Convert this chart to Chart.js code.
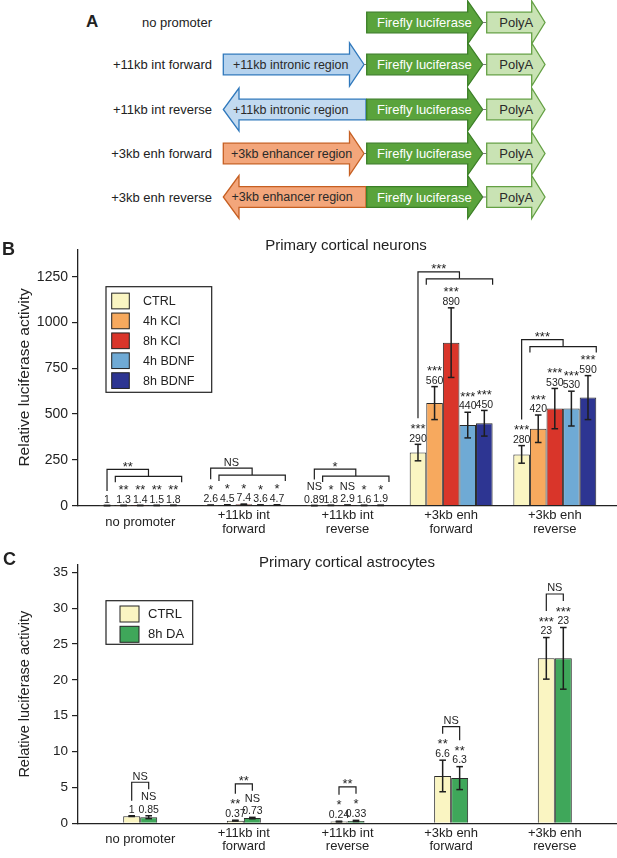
<!DOCTYPE html>
<html>
<head>
<meta charset="utf-8">
<script src="https://cdn.jsdelivr.net/npm/chart.js@4.4.0/dist/chart.umd.min.js"></script>
<style>
  body { margin: 0; width: 617px; height: 858px; position: relative; overflow: hidden; background: #fff;
         font-family: "Liberation Sans", Arial, sans-serif; color: #222; }
  canvas, svg { position: absolute; left: 0; }
  .letra { position: absolute; font-weight: bold; line-height: 1; }
  .titulo { position: absolute; width: 300px; text-align: center; font-size: 15px; line-height: 1; }
</style>
</head>
<body>
<svg id="esquema" width="617" height="230" style="top:0"></svg>
<canvas id="graficoNeur" width="617" height="310" style="top:235px"></canvas>
<canvas id="graficoAstro" width="617" height="310" style="top:548px"></canvas>
<div class="letra" style="left:86px; top:13px; font-size:17px">A</div>
<div class="letra" style="left:2px; top:240px; font-size:18px">B</div>
<div class="letra" style="left:3px; top:550px; font-size:18px">C</div>
<div class="titulo" style="left:196px; top:237px">Primary cortical neurons</div>
<div class="titulo" style="left:197px; top:554px">Primary cortical astrocytes</div>
<script>
// ---- dados ----
const grupos = ['no promoter', ['+11kb int', 'forward'], ['+11kb int', 'reverse'], ['+3kb enh', 'forward'], ['+3kb enh', 'reverse']];

// painel B - neurônios
const seriesNeur = ['CTRL', '4h KCl', '8h KCl', '4h BDNF', '8h BDNF'];
const ctrlNeur = [1, 2.6, 0.89, 290, 280];
const kcl4Neur = [1.3, 4.5, 1.8, 560, 420];
const kcl8Neur = [1.4, 7.4, 2.9, 890, 530];
const bdnf4Neur = [1.5, 3.6, 1.6, 440, 530];
const bdnf8Neur = [1.8, 4.7, 1.9, 450, 590];
const ctrlNeurErr = [0.1, 0.3, 0.1, 45, 48];
const kcl4NeurErr = [0.1, 0.5, 0.2, 90, 75];
const kcl8NeurErr = [0.1, 1.2, 0.4, 190, 110];
const bdnf4NeurErr = [0.1, 0.4, 0.2, 70, 95];
const bdnf8NeurErr = [0.2, 0.6, 0.2, 70, 120];
const ctrlNeurSig = ['', '*', 'NS', '***', '***'];
const kcl4NeurSig = ['**', '*', '*', '***', '***'];
const kcl8NeurSig = ['**', '*', 'NS', '***', '***'];
const bdnf4NeurSig = ['**', '*', '*', '***', '***'];
const bdnf8NeurSig = ['**', '*', '*', '***', '***'];
const chaveNeur = ['**', 'NS', '*', '***', '***'];
const ticksNeur = [0, 250, 500, 750, 1000, 1250];

// painel C - astrócitos
const seriesAstro = ['CTRL', '8h DA'];
const ctrlAstro = [1, 0.37, 0.24, 6.6, 23];
const daAstro = [0.85, 0.73, 0.33, 6.3, 23];
const ctrlAstroErr = [0.05, 0.06, 0.05, 2.2, 2.9];
const daAstroErr = [0.2, 0.1, 0.08, 1.6, 4.3];
const ctrlAstroSig = ['', '**', '*', '**', '***'];
const daAstroSig = ['NS', 'NS', '*', '**', '***'];
const chaveAstro = ['NS', '**', '**', 'NS', 'NS'];
const ticksAstro = [0, 5, 10, 15, 20, 25, 30, 35];

const FONTE = '"Liberation Sans", Arial, sans-serif';

// ---- painel A: esquema dos construtos ----
function flecha(x0, x1, ponta, cy, dir) {
  const h = 10.3, H = 21.5;
  if (dir > 0) {
    return [[x0, cy - h], [x1, cy - h], [x1, cy - H], [ponta, cy], [x1, cy + H], [x1, cy + h], [x0, cy + h]];
  }
  // seta para a esquerda: ponta < x0 (base da cabeça) < x1
  return [[x1, cy - h], [x0, cy - h], [x0, cy - H], [ponta, cy], [x0, cy + H], [x0, cy + h], [x1, cy + h]];
}

function desenharEsquema() {
  const svg = document.getElementById('esquema');
  let s = '';
  const poli = (pts, fill, stroke) =>
    `<polygon points="${pts.map(p => p.join(',')).join(' ')}" fill="${fill}" stroke="${stroke}" stroke-width="1.3" stroke-linejoin="miter"/>`;
  const txt = (t, x, y, cor, anchor, size) =>
    `<text x="${x}" y="${y}" fill="${cor}" font-size="${size}" text-anchor="${anchor}" dominant-baseline="central" font-family='${FONTE}'>${t}</text>`;

  const linhas = [
    { rotulo: 'no promoter', cy: 22.5 },
    { rotulo: '+11kb int forward', cy: 64.5, regiao: '+11kb intronic region', dir: 1, fill: '#b6d3ee', stroke: '#2f78bc', tx: 233 },
    { rotulo: '+11kb int reverse', cy: 109.5, regiao: '+11kb intronic region', dir: -1, fill: '#c2daf0', stroke: '#2f78bc', tx: 233 },
    { rotulo: '+3kb enh forward', cy: 153.5, regiao: '+3kb enhancer region', dir: 1, fill: '#f3a67b', stroke: '#c65f22', tx: 231 },
    { rotulo: '+3kb enh reverse', cy: 197, regiao: '+3kb enhancer region', dir: -1, fill: '#f3a67b', stroke: '#c65f22', tx: 231.5 }
  ];

  for (const l of linhas) {
    s += txt(l.rotulo, 212, l.cy, '#222', 'end', 13);
    if (l.regiao) {
      if (l.dir > 0) {
        s += poli(flecha(223.3, 349.5, 364, l.cy, 1), l.fill, l.stroke);
        s += `<line x1="364" y1="${l.cy}" x2="367" y2="${l.cy}" stroke="#777" stroke-width="1"/>`;
      } else {
        s += poli(flecha(239, 366, 223.3, l.cy, -1), l.fill, l.stroke);
      }
      s += txt(l.regiao, l.tx, l.cy, '#2a2a2a', 'start', 12.5);
    }
    s += poli(flecha(366.7, 467.7, 482.7, l.cy, 1), '#5aa33c', '#3b7f26');
    s += `<line x1="482.7" y1="${l.cy}" x2="486.7" y2="${l.cy}" stroke="#777" stroke-width="1"/>`;
    s += txt('Firefly luciferase', 377, l.cy, '#ffffff', 'start', 13);
    s += poli(flecha(486.7, 531.7, 545, l.cy, 1), '#c9e3b4', '#64a044');
    s += txt('PolyA', 499.3, l.cy, '#2a2a2a', 'start', 13);
  }
  svg.innerHTML = s;
}
desenharEsquema();

// ---- plugins ----
function escreverSig(ctx, txt, x, cy) {
  if (!txt) return;
  if (txt.indexOf('*') >= 0) {
    ctx.font = '13px ' + FONTE;
    ctx.fillText(txt, x, cy + 13 * 0.58);
  } else {
    ctx.font = '11px ' + FONTE;
    ctx.fillText(txt, x, cy + 11 * 0.36);
  }
}

function linha(ctx, pts) {
  ctx.beginPath();
  ctx.moveTo(pts[0][0], pts[0][1]);
  for (let i = 1; i < pts.length; i++) ctx.lineTo(pts[i][0], pts[i][1]);
  ctx.stroke();
}

// barras de erro, valores, asteriscos e colchetes
const anotacoes = {
  id: 'anotacoes',
  afterDatasetsDraw(chart, args, o) {
    const ctx = chart.ctx;
    const ys = chart.scales.y;
    ctx.save();
    ctx.strokeStyle = '#1e1e1e';
    ctx.fillStyle = '#1e1e1e';
    ctx.textAlign = 'center';
    ctx.textBaseline = 'alphabetic';

    for (let g = 0; g < o.chaves.length; g++) {
      const barras = chart.data.datasets.map((ds, d) => {
        const el = chart.getDatasetMeta(d).data[g];
        const v = ds.data[g].y, e = ds.erros[g];
        const topo = ys.getPixelForValue(v + e);
        const base = ys.getPixelForValue(Math.max(v - e, 0));
        ctx.lineWidth = 1.5;
        linha(ctx, [[el.x, topo], [el.x, base]]);
        linha(ctx, [[el.x - o.cap, topo], [el.x + o.cap, topo]]);
        linha(ctx, [[el.x - o.cap, base], [el.x + o.cap, base]]);
        const yV = topo - o.gapValor;
        const yS = topo - o.gapSig;
        ctx.font = o.fonteValor + 'px ' + FONTE;
        ctx.fillText(String(v), el.x, yV + o.fonteValor * 0.36);
        escreverSig(ctx, ds.sig[g], el.x, yS);
        return { x: el.x, w: el.width, yV, yS, sig: ds.sig[g] };
      });

      ctx.lineWidth = 1.2;
      const fim = b => (b.sig ? b.yS - 7 : b.yV - 8);
      if (o.tipo === 'aninhado') {
        const resto = barras.slice(1);
        const yBaixo = Math.min(...resto.map(b => b.yS)) - 10;
        const yCima = yBaixo - 7;
        const ult = resto[resto.length - 1];
        const x1 = resto[0].x - resto[0].w / 2;
        const x2 = ult.x + ult.w / 2;
        const meio = (x1 + x2) / 2;
        const c = barras[0];
        linha(ctx, [[x1, yBaixo + 6], [x1, yBaixo], [x2, yBaixo], [x2, yBaixo + 6]]);
        linha(ctx, [[c.x, fim(c)], [c.x, yCima], [meio, yCima], [meio, yBaixo]]);
        escreverSig(ctx, o.chaves[g], (c.x + meio) / 2, yCima - 6);
      } else {
        const [a, b] = barras;
        const yH = Math.min(a.yS, b.yS) - 14;
        linha(ctx, [[a.x, fim(a)], [a.x, yH], [b.x, yH], [b.x, fim(b)]]);
        escreverSig(ctx, o.chaves[g], (a.x + b.x) / 2, yH - 6.5);
      }
    }
    ctx.restore();
  }
};

// legenda com caixa dentro da área do gráfico
const legendaCaixa = {
  id: 'legendaCaixa',
  afterDraw(chart, args, o) {
    const ctx = chart.ctx;
    ctx.save();
    ctx.fillStyle = '#fff';
    ctx.fillRect(o.x, o.y, o.w, o.h);
    ctx.lineWidth = 1.2;
    ctx.strokeStyle = '#222';
    ctx.strokeRect(o.x, o.y, o.w, o.h);
    ctx.font = o.fonte + 'px ' + FONTE;
    ctx.textBaseline = 'middle';
    ctx.textAlign = 'left';
    chart.data.datasets.forEach((ds, i) => {
      const cy = o.linha0 + i * o.passo;
      ctx.fillStyle = ds.backgroundColor;
      ctx.fillRect(o.sx, cy - o.sh / 2, o.sw, o.sh);
      ctx.lineWidth = 1;
      ctx.strokeRect(o.sx, cy - o.sh / 2, o.sw, o.sh);
      ctx.fillStyle = '#222';
      ctx.fillText(ds.label, o.tx, cy + 0.5);
    });
    ctx.restore();
  }
};

function serie(rotulo, valores, erros, sig, cor, catPct) {
  return {
    label: rotulo,
    data: valores.map((v, i) => ({ x: i, y: v })),
    erros: erros,
    sig: sig,
    backgroundColor: cor,
    borderColor: '#2a2a2a',
    borderWidth: 1,
    borderSkipped: 'bottom',
    barPercentage: 1,
    categoryPercentage: catPct
  };
}

function criarGrafico(id, datasets, ymax, ticksY, cfg) {
  const ctx = document.getElementById(id).getContext('2d');
  return new Chart(ctx, {
    type: 'bar',
    data: { datasets: datasets },
    plugins: [anotacoes, legendaCaixa],
    options: {
      responsive: false,
      animation: false,
      layout: { padding: { top: cfg.padTopo, left: 0, right: 0, bottom: 0 } },
      plugins: {
        legend: { display: false },
        tooltip: { enabled: false },
        anotacoes: cfg.anot,
        legendaCaixa: cfg.legenda
      },
      scales: {
        x: {
          type: 'linear', min: -0.6, max: 4.6, bounds: 'data', offset: false,
          grid: { display: false, drawTicks: false, offset: false },
          border: { display: true, color: '#222', width: 1.3 },
          ticks: {
            font: { size: 13, family: FONTE, lineHeight: cfg.alturaLinha }, color: '#222',
            padding: cfg.padX, maxRotation: 0, autoSkip: false, crossAlign: 'center',
            callback: v => grupos[v]
          },
          afterBuildTicks: s => { s.ticks = grupos.map((_, i) => ({ value: i })); },
          afterFit: s => { s.height = cfg.alturaX; }
        },
        y: {
          min: 0, max: ymax, bounds: 'data',
          grid: { drawOnChartArea: false, drawTicks: true, tickLength: 6, color: '#222', lineWidth: 1.2 },
          border: { color: '#222', width: 1.3 },
          ticks: { font: { size: cfg.fonteY, family: FONTE }, color: '#222', padding: 4, callback: v => String(v) },
          afterBuildTicks: s => { s.ticks = ticksY.map(v => ({ value: v })); },
          afterFit: s => { s.width = 78; },
          title: {
            display: true, text: 'Relative luciferase activity', color: '#222',
            font: { size: cfg.fonteTitulo, family: FONTE }, padding: { top: cfg.padTitulo, bottom: 0 }
          }
        }
      }
    }
  });
}

// Painel B
const coresNeur = ['#faf5c2', '#f7a95e', '#d9352a', '#6faad5', '#2d3592'];
criarGrafico('graficoNeur', [
  serie(seriesNeur[0], ctrlNeur, ctrlNeurErr, ctrlNeurSig, coresNeur[0], 0.8),
  serie(seriesNeur[1], kcl4Neur, kcl4NeurErr, kcl4NeurSig, coresNeur[1], 0.8),
  serie(seriesNeur[2], kcl8Neur, kcl8NeurErr, kcl8NeurSig, coresNeur[2], 0.8),
  serie(seriesNeur[3], bdnf4Neur, bdnf4NeurErr, bdnf4NeurSig, coresNeur[3], 0.8),
  serie(seriesNeur[4], bdnf8Neur, bdnf8NeurErr, bdnf8NeurSig, coresNeur[4], 0.8)
], 1400, ticksNeur, {
  padTopo: 14.2, alturaX: 39.3, padX: 9.3, alturaLinha: 1.1, fonteY: 14, fonteTitulo: 15.5, padTitulo: 15.7,
  anot: { tipo: 'aninhado', chaves: chaveNeur, cap: 3.3, gapValor: 6.6, gapSig: 19, fonteValor: 10.5 },
  legenda: { x: 106, y: 51.7, w: 105.7, h: 105.6, sx: 111.7, sw: 17.6, sh: 15.7, linha0: 66, passo: 19.9, tx: 143, fonte: 12.5 }
});

// Painel C
criarGrafico('graficoAstro', [
  serie(seriesAstro[0], ctrlAstro, ctrlAstroErr, ctrlAstroSig, '#faf5c2', 0.328),
  serie(seriesAstro[1], daAstro, daAstroErr, daAstroSig, '#3fa75a', 0.328)
], 36, ticksAstro, {
  padTopo: 17.1, alturaX: 34.7, padX: 10, alturaLinha: 1.0, fonteY: 13.5, fonteTitulo: 14.5, padTitulo: 16.2,
  anot: { tipo: 'par', chaves: chaveAstro, cap: 3.3, gapValor: 7, gapSig: 19.5, fonteValor: 10.5 },
  legenda: { x: 106, y: 52.7, w: 86.7, h: 43.6, sx: 120, sw: 19, sh: 16, linha0: 66, passo: 20.3, tx: 148, fonte: 13 }
});
</script>
</body>
</html>
